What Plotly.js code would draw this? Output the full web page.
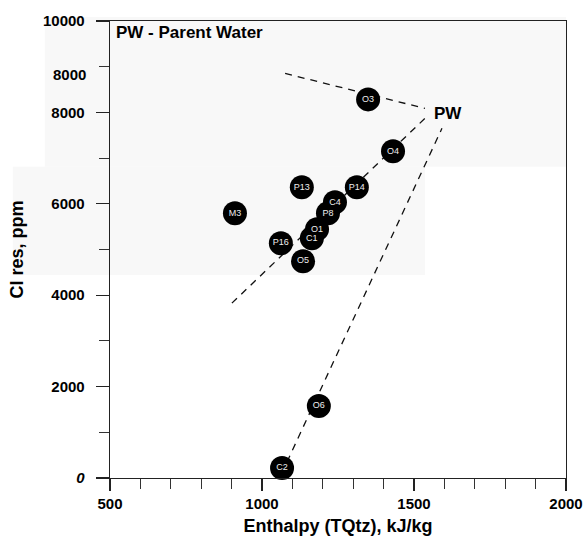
<!DOCTYPE html>
<html>
<head>
<meta charset="utf-8">
<script src="https://cdn.plot.ly/plotly-3.0.1.min.js"></script>
<style>
  html, body { margin: 0; padding: 0; background: #fff; }
  #chart { width: 585px; height: 544px; }
</style>
</head>
<body>
<div id="chart"></div>
<script>
// Sample wells: quartz-geothermometer enthalpy vs. reservoir chloride
const wellLabels = ["O3", "O4", "P14", "P13", "C4", "P8", "O1", "C1", "P16", "O5", "M3", "O6", "C2"];
const enthalpy   = [1349, 1431, 1312, 1131, 1240, 1217, 1181, 1164, 1062, 1135, 911, 1187, 1066];
const chloride   = [8285, 7148, 6361, 6361, 6033, 5793, 5443, 5246, 5137, 4744, 5793, 1574, 219];

// Mixing / dilution trend lines toward the parent water (PW)
const trendUpperX = [1076, 1536];
const trendUpperY = [8853, 8088];
const trendMidX   = [901, 1536];
const trendMidY   = [3826, 7870];
const trendSteepX = [1082, 1592];
const trendSteepY = [350, 7651];

const pwPoint = { x: 1559, y: 7979, text: "PW" };

const yTickVals = [0, 2000, 4000, 6000, 8000, 10000];
const yTickText = ["<i>0</i>", "2000", "4000", "6000", "8000", "10000"];
const xTickVals = [500, 1000, 1500, 2000];
const xTickText = ["500", "1000", "1500", "2000"];

const FONT = "Liberation Sans, Arial, sans-serif";

const dashStyle = { color: "#111", width: 1.3, dash: "7px,6px" };

const traces = [
  { x: trendUpperX, y: trendUpperY, mode: "lines", line: dashStyle, hoverinfo: "skip" },
  { x: trendMidX,   y: trendMidY,   mode: "lines", line: dashStyle, hoverinfo: "skip" },
  { x: trendSteepX, y: trendSteepY, mode: "lines", line: dashStyle, hoverinfo: "skip" },
  {
    x: enthalpy, y: chloride, text: wellLabels,
    mode: "markers+text",
    marker: { size: 24, color: "#000" },
    textposition: "middle center",
    textfont: { family: FONT, size: 9, color: "#eee" },
    cliponaxis: false
  }
];

const layout = {
  width: 585, height: 544,
  margin: { l: 110, r: 19, t: 21, b: 66 },
  paper_bgcolor: "#fff",
  plot_bgcolor: "rgba(0,0,0,0)",
  showlegend: false,
  font: { family: FONT, color: "#000" },
  xaxis: {
    range: [500, 2000],
    tickmode: "array", tickvals: xTickVals, ticktext: xTickText,
    ticks: "outside", ticklen: 12, tickwidth: 1.2, tickcolor: "#222",
    minor: { tickmode: "linear", tick0: 500, dtick: 100, ticks: "outside", ticklen: 10, tickwidth: 1, tickcolor: "#333" },
    showline: true, linecolor: "#222", linewidth: 1.3, mirror: true,
    showgrid: false, zeroline: false,
    tickfont: { family: FONT, size: 15, color: "#000", weight: "bold" },
    title: { text: "<b>Enthalpy (TQtz), kJ/kg</b>", font: { family: FONT, size: 18 }, standoff: 8 }
  },
  yaxis: {
    range: [0, 10000],
    tickmode: "array", tickvals: yTickVals, ticktext: yTickText,
    ticks: "outside", ticklen: 13, tickwidth: 1.2, tickcolor: "#222",
    minor: { tickmode: "linear", tick0: 0, dtick: 1000, ticks: "outside", ticklen: 10, tickwidth: 1, tickcolor: "#333" },
    showline: true, linecolor: "#222", linewidth: 1.3, mirror: true,
    showgrid: false, zeroline: false,
    ticklabelstandoff: 8,
    tickfont: { family: FONT, size: 15, color: "#000", weight: "bold" },
    title: { text: "<b>Cl res, ppm</b>", font: { family: FONT, size: 18 }, standoff: 14 }
  },
  shapes: [
    // faint grey background patches
    { type: "rect", xref: "paper", yref: "paper", x0: -0.143, x1: 1.0, y0: 0.681, y1: 1.009,
      fillcolor: "#f8f8f8", line: { width: 0 }, layer: "below" },
    { type: "rect", xref: "paper", yref: "paper", x0: -0.213, x1: 0.691, y0: 0.444, y1: 0.681,
      fillcolor: "#f8f8f8", line: { width: 0 }, layer: "below" }
  ],
  annotations: [
    { xref: "paper", yref: "paper", x: 0.009, y: 0.974, xanchor: "left", yanchor: "middle",
      text: "<b>PW - Parent Water</b>", showarrow: false, font: { family: FONT, size: 17 } },
    { x: pwPoint.x, y: pwPoint.y, xanchor: "left", yanchor: "middle",
      text: "<b>" + pwPoint.text + "</b>", showarrow: false, font: { family: FONT, size: 17 } },
    { xref: "paper", yref: "y", x: -0.048, y: 8820, xanchor: "right", yanchor: "middle",
      text: "<b>8000</b>", showarrow: false, font: { family: FONT, size: 15 } }
  ]
};

Plotly.newPlot("chart", traces, layout, { staticPlot: true, displayModeBar: false });
</script>
</body>
</html>
